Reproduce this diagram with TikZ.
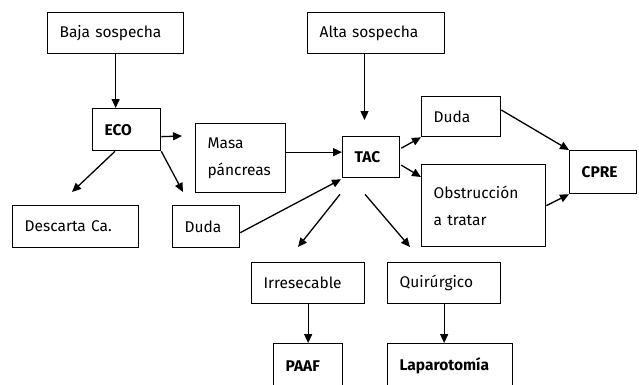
\documentclass[tikz,border=0pt]{standalone}
\usepackage{fontspec}
\setmainfont{Fira Sans}
\usetikzlibrary{arrows.meta,calc}
\begin{document}
\begin{tikzpicture}[x=1pt,y=-1pt,
  box/.style={draw,line width=1.3pt,anchor=north west,inner xsep=12pt,inner ysep=0pt,
    align=left,font=\fontsize{15.5}{27}\selectfont},
  hd/.style={font=\fontsize{15.5}{27}\selectfont\bfseries},
  arr/.style={line width=1.3pt,-{Triangle[length=9pt,width=8pt]}}]
\useasboundingbox (0,0) rectangle (639,384);
% boxes
\node[box,minimum width=136,minimum height=41,text width=112] (baja) at (47,12) {Baja sospecha};
\node[box,minimum width=137,minimum height=41,text width=113] (alta) at (307,12) {Alta sospecha};
\node[box,hd,minimum width=68,minimum height=42,text width=44] (eco) at (92,108) {ECO};
\node[box,minimum width=90,minimum height=69,text width=66] (masa) at (195,123) {Masa\\páncreas};
\node[box,hd,minimum width=57,minimum height=41,text width=33] (tac) at (342,136) {TAC};
\node[box,minimum width=79,minimum height=40,text width=55] (dudaR) at (421,96) {Duda};
\node[box,minimum width=124,minimum height=82,text width=100] (obs) at (421,164) {Obstrucción\\a tratar\\[-14pt]};
\node[box,hd,minimum width=67,minimum height=43,text width=43] (cpre) at (569,150) {CPRE};
\node[box,minimum width=126,minimum height=42,text width=102] (desc) at (12,205) {Descarta Ca.};
\node[box,minimum width=67,minimum height=42,text width=43] (dudaL) at (172,205) {Duda};
\node[box,minimum width=113,minimum height=41,text width=89] (irr) at (251,262) {Irresecable};
\node[box,minimum width=113,minimum height=41,text width=89] (qui) at (387,262) {Quirúrgico};
\node[box,hd,minimum width=69,minimum height=44,text width=45] (paaf) at (273,343) {PAAF};
\node[box,hd,minimum width=125,minimum height=44,text width=101] (lap) at (387,343) {Laparotomía};
% free arrow ends
\coordinate (e1) at (182,136);
\coordinate (e2) at (72,192);
\coordinate (e3) at (183,192);
\coordinate (e4) at (364.5,120);
\coordinate (e5) at (298,247);
\coordinate (e6) at (410,247);
% connectors
\draw[arr] (baja.south) -- (baja.south |- eco.north);
\draw[arr] ($(eco.east)+(0,7)$) -- (e1);
\draw[arr] ($(eco.south west)+(23,0)$) -- (e2);
\draw[arr] (eco.south east) -- (e3);
\draw[arr] ($(alta.south west)+(57.5,0)$) -- (e4);
\draw[arr] ($(masa.east)+(0,-6)$) -- ($(tac.west)+(0,-5)$);
\draw[arr] ($(dudaL.east)+(0,6)$) -- ($(tac.south west)+(-1,1)$);
\draw[arr] ($(tac.east)+(1,-9)$) -- ($(dudaR.south west)+(0,0)$);
\draw[arr] ($(tac.east)+(1,8)$) -- ($(obs.north west)+(0,13)$);
\draw[arr] ($(tac.south west)+(-2,16)$) -- (e5);
\draw[arr] ($(tac.south west)+(23,16)$) -- (e6);
\draw[arr] ($(dudaR.north east)+(0,14)$) -- (cpre.north west);
\draw[arr] ($(obs.east)+(0,0)$) -- (cpre.south west);
\draw[arr] (irr.south) -- (irr.south |- paaf.north);
\draw[arr] (qui.south) -- (qui.south |- lap.north);
\end{tikzpicture}
\end{document}
